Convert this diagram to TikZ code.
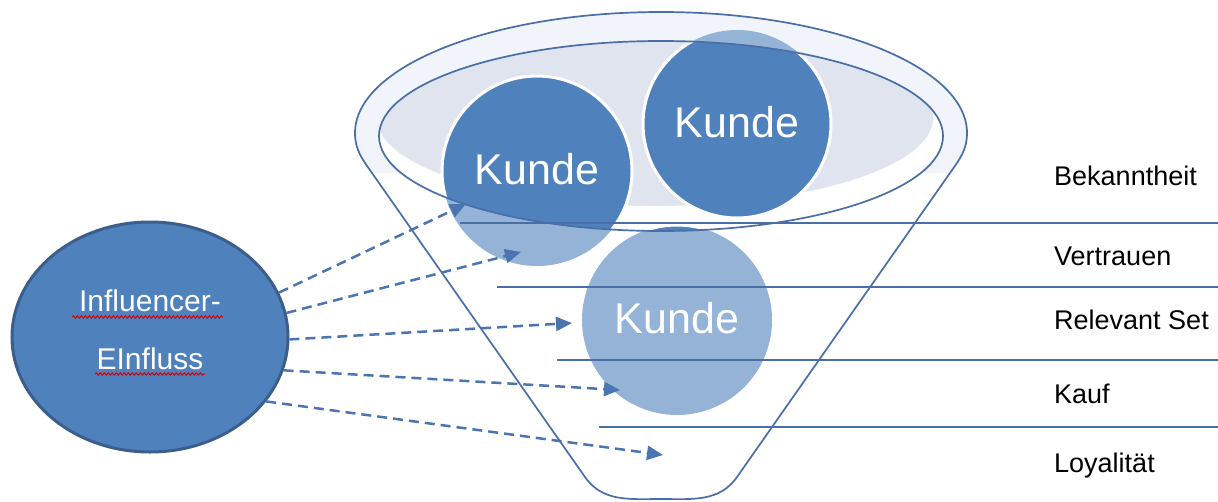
\documentclass[tikz,border=0pt]{standalone}
\usepackage{fontspec}
\setmainfont{Liberation Sans}
\usetikzlibrary{arrows.meta,decorations.pathmorphing,shapes.geometric}
\definecolor{dkblue}{HTML}{4F81BD}
\definecolor{ltblue}{HTML}{95B3D7}
\definecolor{lineblue}{HTML}{4A6EA6}
\definecolor{arrowblue}{HTML}{4A75B0}
\definecolor{greyfill}{HTML}{DFE4EE}
\definecolor{ringfill}{HTML}{F1F4FA}
\definecolor{edgeblue}{HTML}{3B5E8C}
\begin{document}
\begin{tikzpicture}[x=1pt,y=-1pt,
  funnelline/.style={draw=lineblue, line width=1.7pt},
  stageline/.style={draw=lineblue, line width=2pt},
  infarrow/.style={draw=arrowblue, line width=2.5pt, dash pattern=on 10pt off 6pt, -{Triangle[length=16pt,width=14pt]}},
  stagelabel/.style={anchor=base west, font=\fontsize{27}{30}\selectfont, text=black, inner sep=0pt},
  kundetext/.style={anchor=base, font=\fontsize{43}{48}\selectfont, text=white, inner sep=0pt},
  inftext/.style={anchor=base, font=\fontsize{30}{34}\selectfont, text=white, inner sep=0pt},
  squiggle/.style={draw=red!85!black, line width=1pt, decorate, decoration={snake, amplitude=1.2pt, segment length=4pt}}]
\useasboundingbox (0,0) rectangle (1218,501);
\fill[white] (0,0) rectangle (1218,501);

% ring fill at the top of the funnel
\fill[ringfill] (967,133) arc[start angle=0,end angle=180,x radius=306pt,y radius=121pt]
  to[out=-90,in=125] (372,173) -- (950,173) to[out=55,in=-90] (967,133);

% inner ellipse area
\begin{scope}
  \clip (661,136) ellipse[x radius=282pt, y radius=95pt];
  \fill[white] (661,136) ellipse[x radius=282pt, y radius=95pt];
  \fill[greyfill] (655,118) ellipse[x radius=278pt, y radius=88pt];
\end{scope}

% customer circles, light everywhere
\fill[ltblue] (537,171) circle[radius=95pt];
\fill[ltblue] (737,124) circle[radius=94pt];
\fill[ltblue] (677,320) circle[radius=95pt];
% dark inside the funnel opening
\begin{scope}
  \clip (661,136) ellipse[x radius=282pt, y radius=95pt];
  \filldraw[fill=dkblue, draw=white, line width=3pt] (537,171) circle[radius=95pt];
  \filldraw[fill=dkblue, draw=white, line width=3pt] (737,124) circle[radius=94pt];
  \filldraw[fill=dkblue, draw=white, line width=3pt] (677,320) circle[radius=95pt];
\end{scope}

% funnel outline
\path[funnelline] (967,133) arc[start angle=0,end angle=180,x radius=306pt,y radius=121pt]
  to[out=-90,in=125] (372,173) -- (585,477) to[out=-55,in=180] (661,499)
  to[out=0,in=-125] (737,477) -- (950,173) to[out=55,in=-90] (967,133);
\path[funnelline] (661,136) ellipse[x radius=282pt, y radius=95pt];

% stage separators
\coordinate (s1a) at (460,223); \coordinate (s1b) at (1218,223);
\coordinate (s2a) at (497,287); \coordinate (s2b) at (1218,287);
\coordinate (s3a) at (557,360); \coordinate (s3b) at (1218,360);
\coordinate (s4a) at (599,427); \coordinate (s4b) at (1218,427);
\path[stageline] (s1a) -- (s1b);
\path[stageline] (s2a) -- (s2b);
\path[stageline] (s3a) -- (s3b);
\path[stageline] (s4a) -- (s4b);

% customer labels
\node[kundetext] (k1) at (537,184) {Kunde};
\node[kundetext] (k2) at (737,137) {Kunde};
\node[kundetext] (k3) at (677,333) {Kunde};

% influencer ellipse
\node[ellipse, draw=edgeblue, line width=3pt, fill=dkblue, minimum width=276pt, minimum height=230pt, inner sep=0pt] (inf) at (150,337) {};
\node[inftext] (t1) at (150,311) {Influencer-};
\node[inftext] (t2) at (150,369) {EInfluss};
\coordinate (q1a) at (72,317); \coordinate (q1b) at (223,317);
\coordinate (q2a) at (95,374); \coordinate (q2b) at (205,374);
\path[squiggle] (q1a) -- (q1b);
\path[squiggle] (q2a) -- (q2b);

% influence arrows
\coordinate (a1) at (466,204);
\coordinate (a2) at (521,252);
\coordinate (a3) at (572,323);
\coordinate (a4) at (620,390);
\coordinate (a5) at (663,455);
\path[infarrow] (inf.19) -- (a1);
\path[infarrow] (inf.10) -- (a2);
\path[infarrow] (inf.-1) -- (a3);
\path[infarrow] (inf.-14) -- (a4);
\path[infarrow] (inf.-29) -- (a5);

% stage labels
\node[stagelabel] (l1) at (1054,185) {Bekanntheit};
\node[stagelabel] (l2) at (1054,265) {Vertrauen};
\node[stagelabel] (l3) at (1054,329) {Relevant Set};
\node[stagelabel] (l4) at (1054,403) {Kauf};
\node[stagelabel] (l5) at (1054,472) {Loyalität};
\end{tikzpicture}
\end{document}
